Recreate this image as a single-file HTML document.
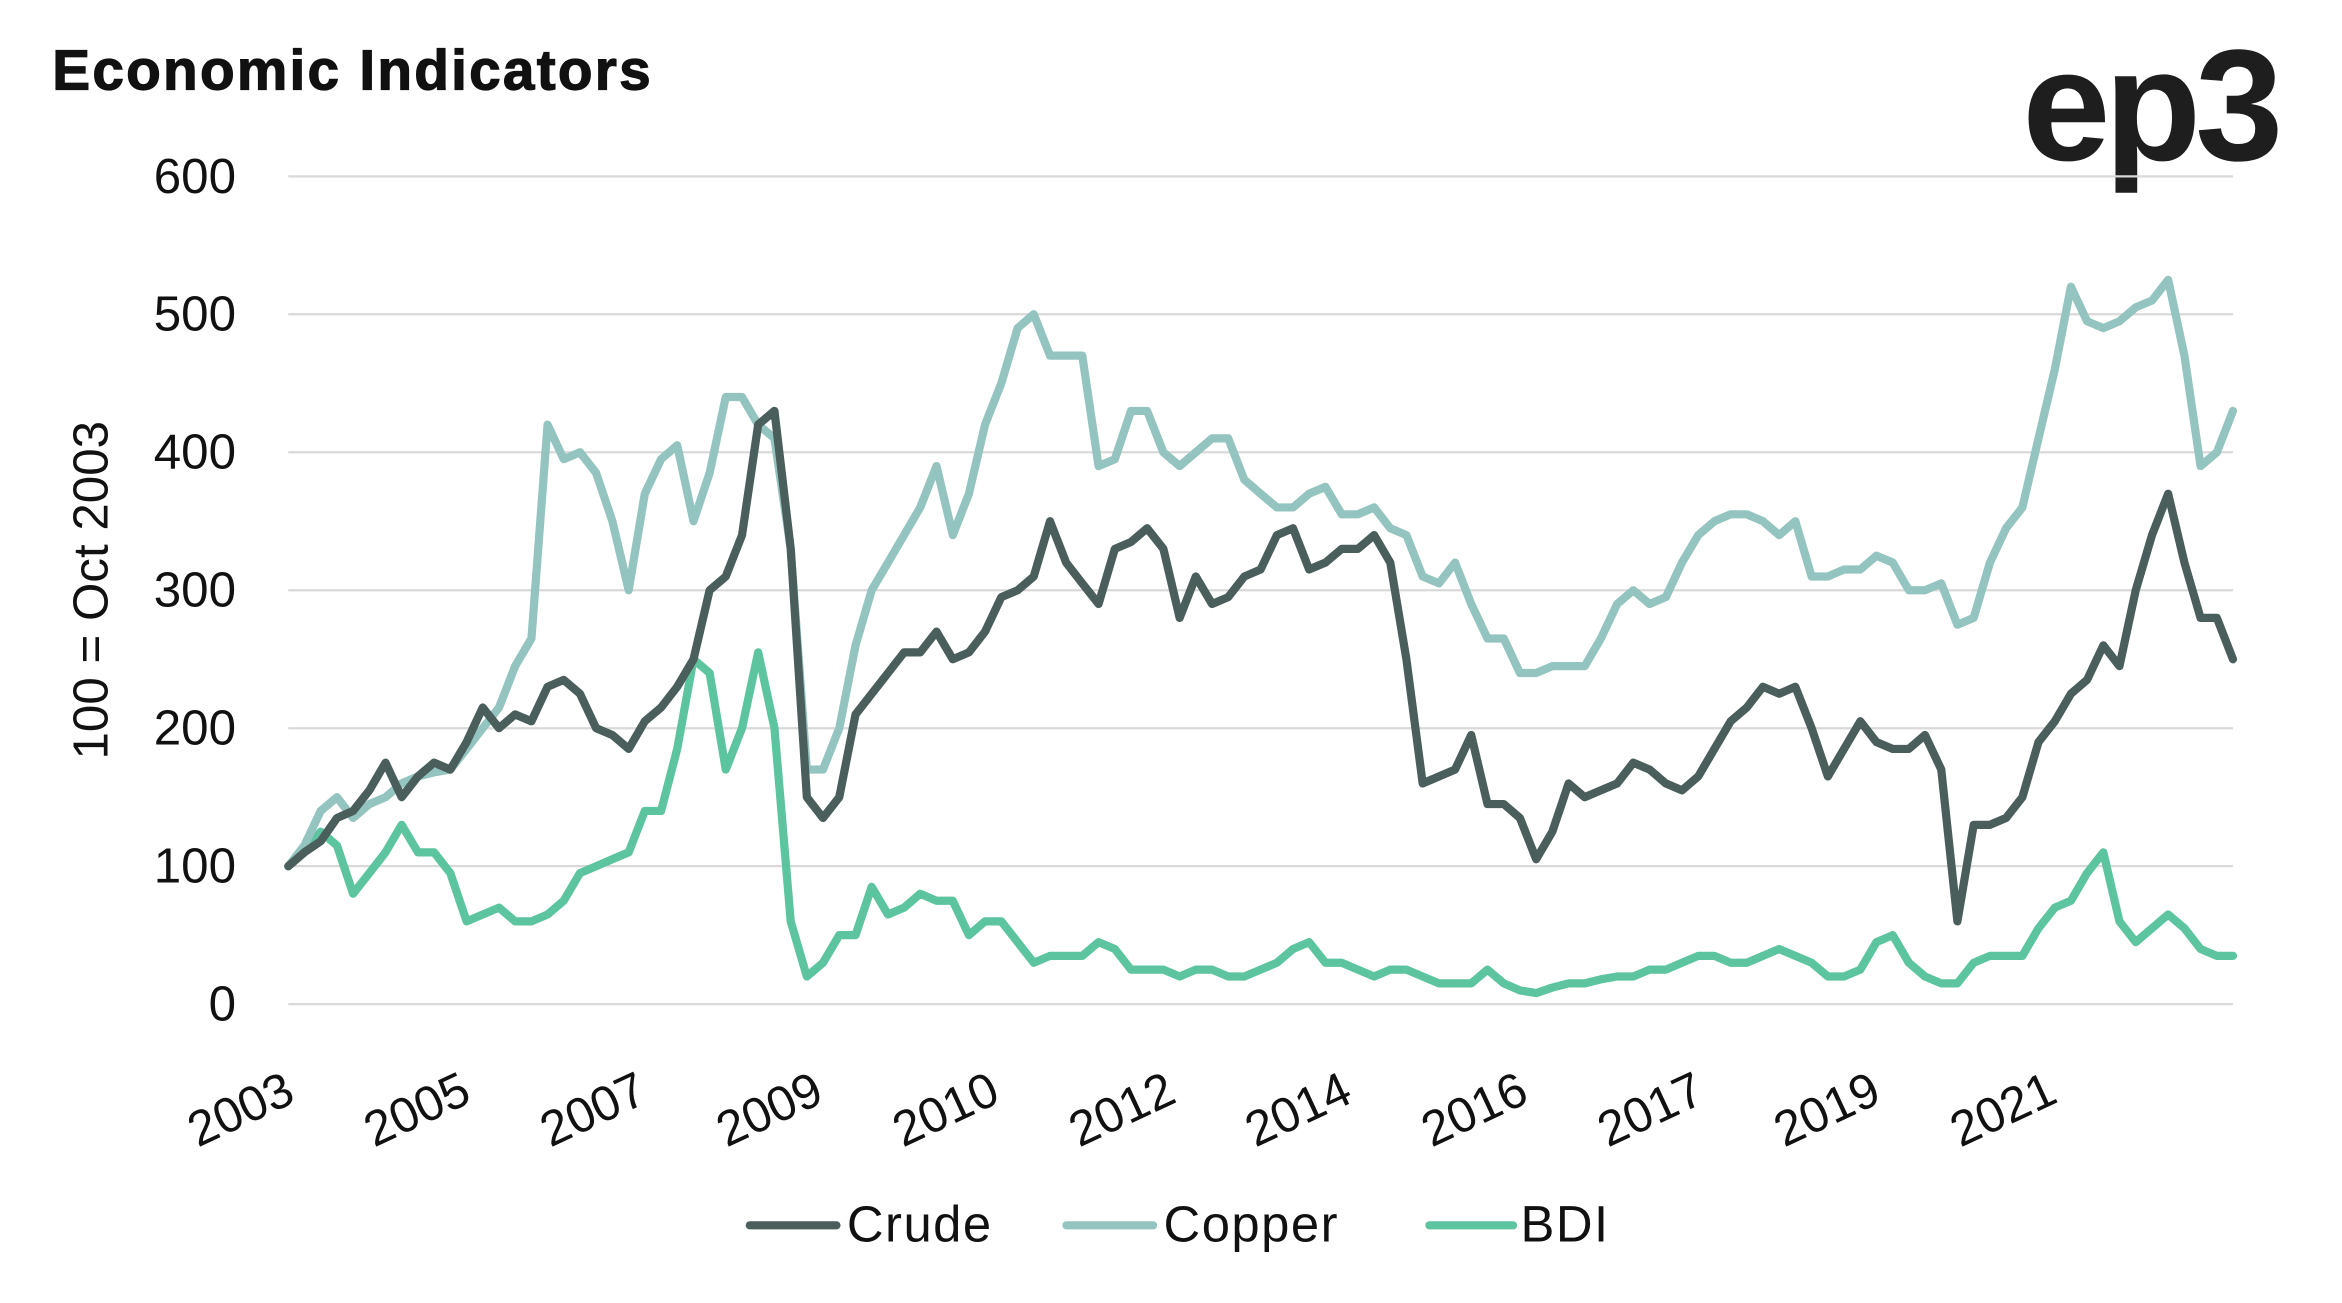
<!DOCTYPE html>
<html><head><meta charset="utf-8"><style>
html,body{margin:0;padding:0;background:#fff;}
svg{display:block;font-family:"Liberation Sans",sans-serif;}
</style></head><body>
<svg id="chart" width="2342" height="1303" viewBox="0 0 1568 872" preserveAspectRatio="none">
<rect x="0" y="0" width="1568" height="872" fill="#fff"/>
<text x="35" y="60" font-size="38" font-weight="bold" fill="#111" letter-spacing="1.5" stroke="#111" stroke-width="0.8">Economic Indicators</text>
<text x="1354" y="107" font-size="106" font-weight="bold" fill="#1e1e1e" letter-spacing="-4">ep3</text>
<text transform="translate(72,395) rotate(-90)" text-anchor="middle" font-size="33" fill="#111">100 = Oct 2003</text>
<g id="grid"></g><g id="ylabels"></g><g id="xlabels"></g><g id="series"></g>
<g>
<g><line x1="502" y1="820" x2="560" y2="820" stroke="#4a5e5c" stroke-width="5.5" stroke-linecap="round"/><text x="567" y="831" font-size="34" letter-spacing="1" fill="#111">Crude</text></g>
<g><line x1="714" y1="820" x2="772" y2="820" stroke="#94c4bf" stroke-width="5.5" stroke-linecap="round"/><text x="779" y="831" font-size="34" letter-spacing="1" fill="#111">Copper</text></g>
<g><line x1="957" y1="820" x2="1013" y2="820" stroke="#5cc49e" stroke-width="5.5" stroke-linecap="round"/><text x="1018" y="831" font-size="34" letter-spacing="1" fill="#111">BDI</text></g>
</g>
</svg>
<script>
const yTicks=[0,100,200,300,400,500,600];
const xTickLabels=["2003","2005","2007","2009","2010","2012","2014","2016","2017","2019","2021"];
const crude=[100,110,118,135,140,155,175,150,165,175,170,190,215,200,210,205,230,235,225,200,195,185,205,215,230,250,300,310,340,420,430,330,150,135,150,210,225,240,255,255,270,250,255,270,295,300,310,350,320,305,290,330,335,345,330,280,310,290,295,310,315,340,345,315,320,330,330,340,320,250,160,165,170,195,145,145,135,105,125,160,150,155,160,175,170,160,155,165,185,205,215,230,225,230,200,165,185,205,190,185,185,195,170,60,130,130,135,150,190,205,225,235,260,245,300,340,370,320,280,280,250];
const copper=[100,115,140,150,135,145,150,160,165,168,170,185,200,215,245,265,420,395,400,385,350,300,370,395,405,350,385,440,440,420,410,330,170,170,200,260,300,320,340,360,390,340,370,420,450,490,500,470,470,470,390,395,430,430,400,390,400,410,410,380,370,360,360,370,375,355,355,360,345,340,310,305,320,290,265,265,240,240,245,245,245,265,290,300,290,295,320,340,350,355,355,350,340,350,310,310,315,315,325,320,300,300,305,275,280,320,345,360,410,460,520,495,490,495,505,510,525,470,390,400,430];
const bdi=[100,110,125,115,80,95,110,130,110,110,95,60,65,70,60,60,65,75,95,100,105,110,140,140,185,250,240,170,200,255,200,60,20,30,50,50,85,65,70,80,75,75,50,60,60,45,30,35,35,35,45,40,25,25,25,20,25,25,20,20,25,30,40,45,30,30,25,20,25,25,20,15,15,15,25,15,10,8,12,15,15,18,20,20,25,25,30,35,35,30,30,35,40,35,30,20,20,25,45,50,30,20,15,15,30,35,35,35,55,70,75,95,110,60,45,55,65,55,40,35,35];
const NS="http://www.w3.org/2000/svg";
const X0=193,X1=1495,Y0=672,Y600=118;
function yScale(v){return Y0-(v/600)*(Y0-Y600);}
function xScale(i,n){return X0+i*(X1-X0)/(n-1);}
const grid=document.getElementById('grid'),yl=document.getElementById('ylabels'),xl=document.getElementById('xlabels'),sg=document.getElementById('series');
yTicks.forEach(t=>{
 const l=document.createElementNS(NS,'line');
 l.setAttribute('x1',X0);l.setAttribute('x2',X1);l.setAttribute('y1',yScale(t));l.setAttribute('y2',yScale(t));
 l.setAttribute('stroke','#d9d9d9');l.setAttribute('stroke-width','1.5');
 
 
 grid.appendChild(l);
 const tx=document.createElementNS(NS,'text');
 tx.setAttribute('x',158);tx.setAttribute('y',yScale(t)+11);tx.setAttribute('text-anchor','end');
 tx.setAttribute('font-size','33');tx.setAttribute('fill','#111');tx.textContent=t;
 
 
 yl.appendChild(tx);
});
xTickLabels.forEach((s,k)=>{
 const x=199+k*118,y=737;
 const tx=document.createElementNS(NS,'text');
 tx.setAttribute('transform','translate('+x+','+y+') rotate(-25)');
 tx.setAttribute('text-anchor','end');tx.setAttribute('font-size','33');tx.setAttribute('fill','#111');
 tx.textContent=s;
 
 
 xl.appendChild(tx);
});
function draw(arr,color,name){
 const p=document.createElementNS(NS,'path');
 p.setAttribute('d',arr.map((v,i)=>(i?'L':'M')+xScale(i,arr.length).toFixed(1)+','+yScale(v).toFixed(1)).join(''));
 p.setAttribute('fill','none');p.setAttribute('stroke',color);p.setAttribute('stroke-width','5.5');
 p.setAttribute('stroke-linejoin','round');p.setAttribute('stroke-linecap','round');
 
 
 sg.appendChild(p);
}
draw(bdi,'#5cc49e','bdi-line');
draw(copper,'#94c4bf','copper-line');
draw(crude,'#4a5e5c','crude-line');
</script>
</body></html>
